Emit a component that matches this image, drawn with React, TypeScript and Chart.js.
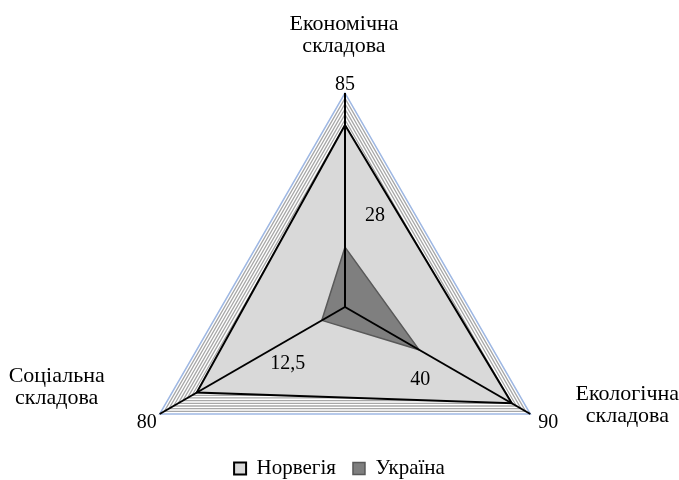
import { useEffect, useRef } from 'react';
import { Chart, registerables } from 'chart.js';

Chart.register(...registerables);

// ---- data ----
const categories: string[][] = [
  ['Економічна', 'складова'],
  ['Екологічна', 'складова'],
  ['Соціальна', 'складова'],
];
const seriesNames = ['Норвегія', 'Україна'];
const norwayValues = [85, 90, 80];
const ukraineValues = [28, 40, 12.5];
const norwayValueLabels = ['85', '90', '80'];
const ukraineValueLabels = ['28', '40', '12,5'];
const scaleMin = 0;
const scaleMax = 100;
const scaleStep = 2.5;

const FONT = '"Liberation Serif", "Times New Roman", serif';

const overlayPlugin = {
  id: 'overlay',
  afterDatasetsDraw(chart: any) {
    const r = chart.scales.r;
    const ctx = chart.ctx as CanvasRenderingContext2D;
    ctx.save();
    // spokes drawn above the fills
    ctx.strokeStyle = '#000000';
    ctx.lineWidth = 2;
    for (let i = 0; i < categories.length; i++) {
      const p = r.getPointPositionForValue(i, scaleMax);
      ctx.beginPath();
      ctx.moveTo(r.xCenter, r.yCenter);
      ctx.lineTo(p.x, p.y);
      ctx.stroke();
    }
    ctx.fillStyle = '#000000';
    ctx.textAlign = 'center';
    ctx.textBaseline = 'alphabetic';
    // category labels
    ctx.font = `22px ${FONT}`;
    const catOffsets = [
      { dx: -1, dy: [-63, -41] },
      { dx: 97, dy: [-14, 8] },
      { dx: -103, dy: [-32, -10] },
    ];
    categories.forEach((lines, i) => {
      const p = r.getPointPositionForValue(i, scaleMax);
      lines.forEach((line, j) => {
        ctx.fillText(line, p.x + catOffsets[i].dx, p.y + catOffsets[i].dy[j]);
      });
    });
    ctx.font = `20px ${FONT}`;
    // Norway value labels (outside outer vertex)
    const nOff = [
      { dx: 0, dy: -3 },
      { dx: 18, dy: 14 },
      { dx: -13, dy: 14 },
    ];
    norwayValueLabels.forEach((t, i) => {
      const p = r.getPointPositionForValue(i, scaleMax);
      ctx.fillText(t, p.x + nOff[i].dx, p.y + nOff[i].dy);
    });
    // Ukraine value labels
    const uOff = [
      { dx: 30, dy: -26 },
      { dx: 1, dy: 35 },
      { dx: -34, dy: 49 },
    ];
    ukraineValueLabels.forEach((t, i) => {
      const p = r.getPointPositionForValue(i, ukraineValues[i]);
      ctx.fillText(t, p.x + uOff[i].dx, p.y + uOff[i].dy);
    });
    ctx.restore();
  },
};

export default function App() {
  const ref = useRef<HTMLCanvasElement | null>(null);

  useEffect(() => {
    document.body.style.margin = '0';
    if (!ref.current) return;
    const chart = new Chart(ref.current, {
      type: 'radar',
      data: {
        labels: categories.map((c) => c.join(' ')),
        datasets: [
          {
            label: seriesNames[0],
            data: norwayValues,
            backgroundColor: '#d9d9d9',
            borderColor: '#000000',
            borderWidth: 2,
            pointRadius: 0,
            fill: true,
            order: 1,
            clip: false,
          },
          {
            label: seriesNames[1],
            data: ukraineValues,
            backgroundColor: '#7f7f7f',
            borderColor: '#595959',
            borderWidth: 1.5,
            pointRadius: 0,
            fill: true,
            order: 0,
            clip: false,
          },
        ],
      },
      options: {
        responsive: false,
        animation: false,
        layout: { padding: { bottom: -9 } },
        elements: { line: { tension: 0 } },
        scales: {
          r: {
            min: scaleMin,
            max: scaleMax,
            ticks: { display: false, stepSize: scaleStep },
            pointLabels: { display: false },
            angleLines: { display: false },
            grid: {
              circular: false,
              lineWidth: (c: any) => (c.tick && c.tick.value === scaleMax ? 1.5 : 1.3),
              color: (c: any) => (c.tick && c.tick.value === scaleMax ? '#9fb8e3' : '#a8a8a8'),
            },
            afterFit: (scale: any) => {
              scale.xCenter = 345;
              scale.yCenter = 307;
              scale.drawingArea = 214;
            },
          },
        },
        plugins: {
          tooltip: { enabled: false },
          legend: {
            position: 'bottom',
            labels: {
              color: '#000000',
              font: { family: FONT, size: 21 },
              boxWidth: 12,
              boxHeight: 12,
              padding: 17,
              sort: (a: any, b: any) => a.datasetIndex - b.datasetIndex,
            },
          },
        },
      },
      plugins: [overlayPlugin],
    } as any);
    return () => chart.destroy();
  }, []);

  return (
    <div style={{ width: 679, height: 480 }}>
      <canvas ref={ref} width={679} height={480} style={{ display: 'block' }} />
    </div>
  );
}
